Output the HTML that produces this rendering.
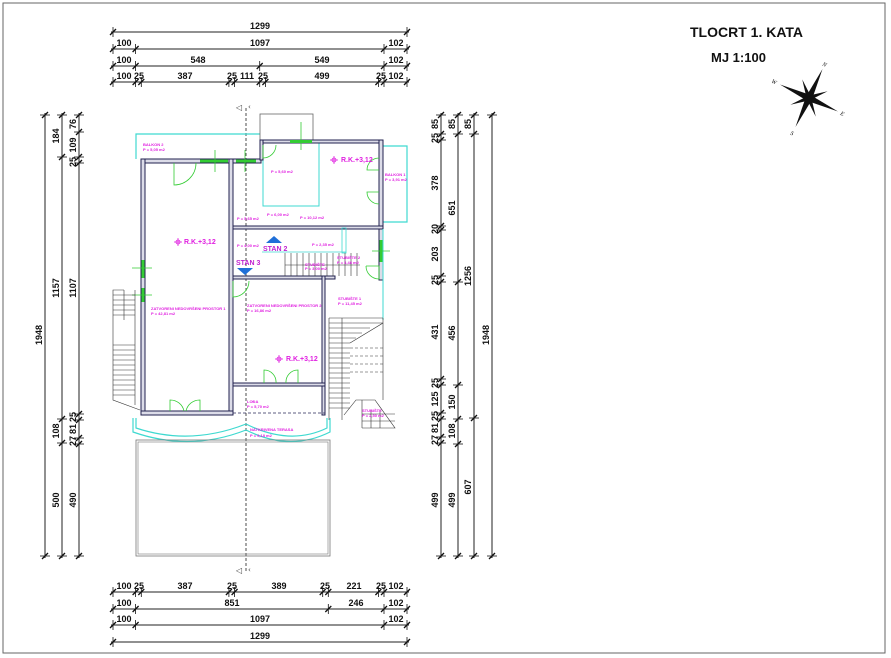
<!DOCTYPE html>
<html><head><meta charset="utf-8"><style>
html,body{margin:0;padding:0;background:#fff;}
svg{display:block;}
.d{stroke:#222;stroke-width:1;fill:none}
.t{font-family:"Liberation Sans",sans-serif;font-size:9px;font-weight:bold;fill:#111}
.m{font-family:"Liberation Sans",sans-serif;font-size:4px;font-weight:bold;fill:#e020e0}
.w{fill:#dcdce8;stroke:#22224f;stroke-width:1}
.c{stroke:#3fd9d0;fill:none;stroke-width:1.2}
.g{stroke:#3c3;stroke-width:3}
.gl{stroke:#3c3;stroke-width:0.8;fill:none}
.h{stroke:#333;stroke-width:0.6}
</style></head><body>
<svg width="891" height="658" viewBox="0 0 891 658" xmlns="http://www.w3.org/2000/svg">
<rect x="3" y="3" width="882" height="650" fill="none" stroke="#666" stroke-width="1"/>
<defs>
<g id="tk"><line x1="-3" y1="3" x2="3" y2="-3" stroke="#111" stroke-width="1.3"/><line x1="0" y1="-5" x2="0" y2="5" stroke="#111" stroke-width="0.8"/></g>
<g id="tv"><line x1="-3" y1="3" x2="3" y2="-3" stroke="#111" stroke-width="1.3"/><line x1="-5" y1="0" x2="5" y2="0" stroke="#111" stroke-width="0.8"/></g>
</defs>

<!-- TOP DIMS -->
<g>
<line class="d" x1="111" y1="32" x2="409" y2="32"/>
<use href="#tk" x="113" y="32"/><use href="#tk" x="407" y="32"/>
<text class="t" x="260" y="29" text-anchor="middle">1299</text>
<line class="d" x1="111" y1="49" x2="409" y2="49"/>
<use href="#tk" x="113" y="49"/><use href="#tk" x="135.6" y="49"/><use href="#tk" x="384" y="49"/><use href="#tk" x="407" y="49"/>
<text class="t" x="124" y="46" text-anchor="middle">100</text><text class="t" x="260" y="46" text-anchor="middle">1097</text><text class="t" x="396" y="46" text-anchor="middle">102</text>
<line class="d" x1="111" y1="66" x2="409" y2="66"/>
<use href="#tk" x="113" y="66"/><use href="#tk" x="135.6" y="66"/><use href="#tk" x="259.7" y="66"/><use href="#tk" x="384" y="66"/><use href="#tk" x="407" y="66"/>
<text class="t" x="124" y="63" text-anchor="middle">100</text><text class="t" x="198" y="63" text-anchor="middle">548</text><text class="t" x="322" y="63" text-anchor="middle">549</text><text class="t" x="396" y="63" text-anchor="middle">102</text>
<line class="d" x1="111" y1="82" x2="409" y2="82"/>
<use href="#tk" x="113" y="82"/><use href="#tk" x="135.6" y="82"/><use href="#tk" x="141.3" y="82"/><use href="#tk" x="228.9" y="82"/><use href="#tk" x="234.6" y="82"/><use href="#tk" x="259.7" y="82"/><use href="#tk" x="265.4" y="82"/><use href="#tk" x="378.4" y="82"/><use href="#tk" x="384" y="82"/><use href="#tk" x="407" y="82"/>
<text class="t" x="124" y="79" text-anchor="middle">100</text><text class="t" x="139" y="79" text-anchor="middle">25</text><text class="t" x="185" y="79" text-anchor="middle">387</text><text class="t" x="232" y="79" text-anchor="middle">25</text><text class="t" x="247" y="79" text-anchor="middle">111</text><text class="t" x="263" y="79" text-anchor="middle">25</text><text class="t" x="322" y="79" text-anchor="middle">499</text><text class="t" x="381" y="79" text-anchor="middle">25</text><text class="t" x="396" y="79" text-anchor="middle">102</text>
</g>

<!-- BOTTOM DIMS -->
<g>
<line class="d" x1="111" y1="592" x2="409" y2="592"/>
<use href="#tk" x="113" y="592"/><use href="#tk" x="135.6" y="592"/><use href="#tk" x="141.3" y="592"/><use href="#tk" x="228.9" y="592"/><use href="#tk" x="234.6" y="592"/><use href="#tk" x="322.7" y="592"/><use href="#tk" x="328.3" y="592"/><use href="#tk" x="378.4" y="592"/><use href="#tk" x="384" y="592"/><use href="#tk" x="407" y="592"/>
<text class="t" x="124" y="589" text-anchor="middle">100</text><text class="t" x="139" y="589" text-anchor="middle">25</text><text class="t" x="185" y="589" text-anchor="middle">387</text><text class="t" x="232" y="589" text-anchor="middle">25</text><text class="t" x="279" y="589" text-anchor="middle">389</text><text class="t" x="325" y="589" text-anchor="middle">25</text><text class="t" x="354" y="589" text-anchor="middle">221</text><text class="t" x="381" y="589" text-anchor="middle">25</text><text class="t" x="396" y="589" text-anchor="middle">102</text>
<line class="d" x1="111" y1="609" x2="409" y2="609"/>
<use href="#tk" x="113" y="609"/><use href="#tk" x="135.6" y="609"/><use href="#tk" x="328.3" y="609"/><use href="#tk" x="384" y="609"/><use href="#tk" x="407" y="609"/>
<text class="t" x="124" y="606" text-anchor="middle">100</text><text class="t" x="232" y="606" text-anchor="middle">851</text><text class="t" x="356" y="606" text-anchor="middle">246</text><text class="t" x="396" y="606" text-anchor="middle">102</text>
<line class="d" x1="111" y1="625" x2="409" y2="625"/>
<use href="#tk" x="113" y="625"/><use href="#tk" x="135.6" y="625"/><use href="#tk" x="384" y="625"/><use href="#tk" x="407" y="625"/>
<text class="t" x="124" y="622" text-anchor="middle">100</text><text class="t" x="260" y="622" text-anchor="middle">1097</text><text class="t" x="396" y="622" text-anchor="middle">102</text>
<line class="d" x1="111" y1="642" x2="409" y2="642"/>
<use href="#tk" x="113" y="642"/><use href="#tk" x="407" y="642"/>
<text class="t" x="260" y="639" text-anchor="middle">1299</text>
</g>

<!-- LEFT DIMS -->
<g>
<line class="d" x1="45" y1="113" x2="45" y2="558"/>
<use href="#tv" x="45" y="115"/><use href="#tv" x="45" y="556"/>
<text class="t" transform="translate(42,335) rotate(-90)" text-anchor="middle">1948</text>
<line class="d" x1="62" y1="113" x2="62" y2="558"/>
<use href="#tv" x="62" y="115"/><use href="#tv" x="62" y="157"/><use href="#tv" x="62" y="419"/><use href="#tv" x="62" y="443"/><use href="#tv" x="62" y="556"/>
<text class="t" transform="translate(59,136) rotate(-90)" text-anchor="middle">184</text>
<text class="t" transform="translate(59,288) rotate(-90)" text-anchor="middle">1157</text>
<text class="t" transform="translate(59,431) rotate(-90)" text-anchor="middle">108</text>
<text class="t" transform="translate(59,500) rotate(-90)" text-anchor="middle">500</text>
<line class="d" x1="79" y1="113" x2="79" y2="558"/>
<use href="#tv" x="79" y="115"/><use href="#tv" x="79" y="132"/><use href="#tv" x="79" y="157"/><use href="#tv" x="79" y="163"/><use href="#tv" x="79" y="414"/><use href="#tv" x="79" y="420"/><use href="#tv" x="79" y="438"/><use href="#tv" x="79" y="444"/><use href="#tv" x="79" y="556"/>
<text class="t" transform="translate(76,124) rotate(-90)" text-anchor="middle">76</text>
<text class="t" transform="translate(76,145) rotate(-90)" text-anchor="middle">109</text>
<text class="t" transform="translate(76,162) rotate(-90)" text-anchor="middle">25</text>
<text class="t" transform="translate(76,288) rotate(-90)" text-anchor="middle">1107</text>
<text class="t" transform="translate(76,417) rotate(-90)" text-anchor="middle">25</text>
<text class="t" transform="translate(76,429) rotate(-90)" text-anchor="middle">81</text>
<text class="t" transform="translate(76,441) rotate(-90)" text-anchor="middle">27</text>
<text class="t" transform="translate(76,500) rotate(-90)" text-anchor="middle">490</text>
</g>

<!-- RIGHT DIMS -->
<g>
<line class="d" x1="441" y1="113" x2="441" y2="558"/>
<use href="#tv" x="441" y="115"/><use href="#tv" x="441" y="134"/><use href="#tv" x="441" y="140"/><use href="#tv" x="441" y="226"/><use href="#tv" x="441" y="230"/><use href="#tv" x="441" y="276"/><use href="#tv" x="441" y="282"/><use href="#tv" x="441" y="379"/><use href="#tv" x="441" y="385"/><use href="#tv" x="441" y="413"/><use href="#tv" x="441" y="419"/><use href="#tv" x="441" y="437"/><use href="#tv" x="441" y="443"/><use href="#tv" x="441" y="556"/>
<text class="t" transform="translate(438,124) rotate(-90)" text-anchor="middle">85</text>
<text class="t" transform="translate(438,138) rotate(-90)" text-anchor="middle">25</text>
<text class="t" transform="translate(438,183) rotate(-90)" text-anchor="middle">378</text>
<text class="t" transform="translate(438,229) rotate(-90)" text-anchor="middle">20</text>
<text class="t" transform="translate(438,254) rotate(-90)" text-anchor="middle">203</text>
<text class="t" transform="translate(438,280) rotate(-90)" text-anchor="middle">25</text>
<text class="t" transform="translate(438,332) rotate(-90)" text-anchor="middle">431</text>
<text class="t" transform="translate(438,383) rotate(-90)" text-anchor="middle">25</text>
<text class="t" transform="translate(438,399) rotate(-90)" text-anchor="middle">125</text>
<text class="t" transform="translate(438,416) rotate(-90)" text-anchor="middle">25</text>
<text class="t" transform="translate(438,428) rotate(-90)" text-anchor="middle">81</text>
<text class="t" transform="translate(438,440) rotate(-90)" text-anchor="middle">27</text>
<text class="t" transform="translate(438,500) rotate(-90)" text-anchor="middle">499</text>
<line class="d" x1="458" y1="113" x2="458" y2="558"/>
<use href="#tv" x="458" y="115"/><use href="#tv" x="458" y="134"/><use href="#tv" x="458" y="282"/><use href="#tv" x="458" y="385"/><use href="#tv" x="458" y="419"/><use href="#tv" x="458" y="444"/><use href="#tv" x="458" y="556"/>
<text class="t" transform="translate(455,124) rotate(-90)" text-anchor="middle">85</text>
<text class="t" transform="translate(455,208) rotate(-90)" text-anchor="middle">651</text>
<text class="t" transform="translate(455,333) rotate(-90)" text-anchor="middle">456</text>
<text class="t" transform="translate(455,402) rotate(-90)" text-anchor="middle">150</text>
<text class="t" transform="translate(455,431) rotate(-90)" text-anchor="middle">108</text>
<text class="t" transform="translate(455,500) rotate(-90)" text-anchor="middle">499</text>
<line class="d" x1="474" y1="113" x2="474" y2="558"/>
<use href="#tv" x="474" y="115"/><use href="#tv" x="474" y="134"/><use href="#tv" x="474" y="418"/><use href="#tv" x="474" y="556"/>
<text class="t" transform="translate(471,124) rotate(-90)" text-anchor="middle">85</text>
<text class="t" transform="translate(471,276) rotate(-90)" text-anchor="middle">1256</text>
<text class="t" transform="translate(471,487) rotate(-90)" text-anchor="middle">607</text>
<line class="d" x1="492" y1="113" x2="492" y2="558"/>
<use href="#tv" x="492" y="115"/><use href="#tv" x="492" y="556"/>
<text class="t" transform="translate(489,335) rotate(-90)" text-anchor="middle">1948</text>
</g>

<!-- TITLE -->
<text x="690" y="37" style="font-family:'Liberation Sans',sans-serif;font-size:14px;font-weight:bold" fill="#111">TLOCRT 1. KATA</text>
<text x="711" y="62" style="font-family:'Liberation Sans',sans-serif;font-size:13px;font-weight:bold" fill="#111">MJ 1:100</text>
<!-- compass -->
<g transform="translate(809,98) rotate(25)">
<polygon points="0,-32 3,-3 0,0 -3,-3" fill="#111"/>
<polygon points="0,32 3,3 0,0 -3,3" fill="#111"/>
<polygon points="-32,0 -3,-3 0,0 -3,3" fill="#111"/>
<polygon points="32,0 3,-3 0,0 3,3" fill="#111"/>
<polygon points="-14,-14 0,-3 0,0 -3,0" fill="#111"/>
<polygon points="14,-14 3,0 0,0 0,-3" fill="#111"/>
<polygon points="-14,14 0,3 0,0 -3,0" fill="#111"/>
<polygon points="14,14 3,0 0,0 0,3" fill="#111"/>
<g style="font-family:'Liberation Serif',serif;font-size:6px;font-style:italic" fill="#111">
<text x="-2" y="-35">N</text><text x="-2" y="41">S</text><text x="-41" y="2">W</text><text x="35" y="2">E</text></g>
</g>

<!-- axis -->
<line x1="246" y1="108" x2="246" y2="572" stroke="#222" stroke-width="0.8" stroke-dasharray="3,2"/>
<text x="236" y="110" style="font-family:'DejaVu Sans',sans-serif;font-size:8px" fill="#444">◁</text><text x="248" y="109" style="font-size:7px;font-family:'DejaVu Sans',sans-serif" fill="#444">‹</text>
<text x="236" y="573" style="font-family:'DejaVu Sans',sans-serif;font-size:8px" fill="#444">◁</text><text x="248" y="572" style="font-size:7px;font-family:'DejaVu Sans',sans-serif" fill="#444">‹</text>

<!-- PLAN -->
<path class="c" d="M136,159 L136,134 L260,134"/>
<path class="c" d="M383,146 L407,146 L407,222 L383,222"/>
<rect x="263" y="141" width="56" height="65" fill="none" stroke="#3fd9d0" stroke-width="1"/>
<rect x="260" y="114" width="53" height="27" fill="none" stroke="#666" stroke-width="0.8"/>
<path class="c" d="M133,418 L133,432 Q190,452 246,430 Q290,452 330,432 L330,418"/>
<path class="c" d="M136,418 L136,428 Q190,446 246,424 Q290,446 327,428 L327,418"/>
<rect x="136" y="440" width="194" height="116" fill="none" stroke="#777" stroke-width="0.8"/>
<rect x="138" y="442" width="190" height="112" fill="none" stroke="#777" stroke-width="0.6"/>
<rect class="w" x="141" y="159" width="120" height="4"/>
<rect class="w" x="141" y="159" width="4" height="256"/>
<rect class="w" x="229" y="159" width="4" height="256"/>
<rect class="w" x="141" y="411" width="92" height="4"/>
<rect class="w" x="260" y="140" width="123" height="3"/>
<rect class="w" x="260" y="140" width="3" height="20"/>
<rect class="w" x="379" y="140" width="4" height="140"/>
<rect class="w" x="233" y="226" width="150" height="3"/>
<rect class="w" x="233" y="276" width="92" height="3"/>
<rect class="w" x="322" y="276" width="3" height="139"/>
<rect class="w" x="233" y="383" width="92" height="3"/>
<line x1="233" y1="413" x2="325" y2="413" stroke="#2a2a5a" stroke-width="0.8" stroke-dasharray="3,2"/>
<rect class="w" x="325" y="276" width="10" height="3"/>
<rect x="342" y="228" width="4" height="25" fill="none" stroke="#3fd9d0" stroke-width="0.8"/>
<line x1="262" y1="252" x2="346" y2="252" stroke="#3fd9d0" stroke-width="0.8"/>
<line x1="383" y1="229" x2="383" y2="320" stroke="#3fd9d0" stroke-width="1"/>
<line class="g" x1="200" y1="161" x2="228" y2="161"/><line class="g" x1="236" y1="161" x2="256" y2="161"/>
<line class="g" x1="290" y1="141.5" x2="312" y2="141.5"/>
<line class="g" x1="143" y1="260" x2="143" y2="278"/><line class="g" x1="143" y1="288" x2="143" y2="302"/>
<line class="g" x1="381" y1="240" x2="381" y2="262"/>
<line class="gl" x1="215" y1="150" x2="215" y2="172"/><line class="gl" x1="245" y1="150" x2="245" y2="172"/><line class="gl" x1="301" y1="122" x2="301" y2="150"/>
<line class="gl" x1="132" y1="268" x2="152" y2="268"/><line class="gl" x1="132" y1="295" x2="152" y2="295"/><line class="gl" x1="372" y1="251" x2="390" y2="251"/>
<path class="gl" d="M174,163 L174,185 A22,22 0 0 0 196,163"/>
<path class="gl" d="M263,145 L263,158 A13,13 0 0 0 276,145"/>
<path class="gl" d="M379,170 L367,170 A12,12 0 0 1 379,158 M379,192 L367,192 A12,12 0 0 0 379,204"/>
<path class="gl" d="M233,281 L233,297 A16,16 0 0 0 249,281"/>
<path class="gl" d="M366,266 L379,266 L379,279 A13,13 0 0 1 366,266"/>
<path class="gl" d="M264,383 L264,370 A12,12 0 0 1 276,383 M298,383 L298,370 A12,12 0 0 0 286,383"/>
<path class="gl" d="M170,411 L170,400 A14,14 0 0 1 184,411 M200,411 L200,400 A14,14 0 0 0 186,411"/>
<g class="h"><line x1="285" y1="253" x2="285" y2="276"/><line x1="291" y1="253" x2="291" y2="276"/><line x1="297" y1="253" x2="297" y2="276"/><line x1="303" y1="253" x2="303" y2="276"/><line x1="309" y1="253" x2="309" y2="276"/><line x1="315" y1="253" x2="315" y2="276"/><line x1="321" y1="253" x2="321" y2="276"/><line x1="327" y1="253" x2="327" y2="276"/><line x1="333" y1="253" x2="333" y2="276"/><line x1="339" y1="253" x2="339" y2="276"/><line x1="345" y1="253" x2="345" y2="276"/><line x1="351" y1="253" x2="351" y2="276"/><line x1="357" y1="253" x2="357" y2="276"/><line x1="285" y1="265" x2="360" y2="265"/></g>
<g class="h">
<line x1="329" y1="318" x2="329" y2="420"/><line x1="342" y1="318" x2="342" y2="420"/><line x1="383" y1="318" x2="383" y2="400"/>
<line x1="329" y1="318" x2="383" y2="318"/><line x1="329" y1="323" x2="383" y2="323"/><line x1="329" y1="328" x2="370" y2="328"/><line x1="329" y1="333" x2="362" y2="333"/><line x1="329" y1="338" x2="356" y2="338"/><line x1="329" y1="343" x2="350" y2="343"/><line x1="329" y1="348" x2="350" y2="348"/><line x1="329" y1="353" x2="350" y2="353"/><line x1="329" y1="358" x2="350" y2="358"/><line x1="329" y1="363" x2="350" y2="363"/><line x1="329" y1="368" x2="350" y2="368"/><line x1="329" y1="373" x2="350" y2="373"/><line x1="329" y1="378" x2="350" y2="378"/><line x1="329" y1="383" x2="350" y2="383"/><line x1="329" y1="388" x2="350" y2="388"/><line x1="329" y1="393" x2="350" y2="393"/><line x1="329" y1="398" x2="350" y2="398"/><line x1="329" y1="403" x2="350" y2="403"/><line x1="329" y1="408" x2="350" y2="408"/>
<line x1="350" y1="343" x2="383" y2="323"/>
<line x1="350" y1="348" x2="383" y2="348" stroke-dasharray="3,2"/><line x1="350" y1="356" x2="383" y2="356" stroke-dasharray="3,2"/><line x1="350" y1="364" x2="383" y2="364" stroke-dasharray="3,2"/><line x1="350" y1="372" x2="383" y2="372" stroke-dasharray="3,2"/>
<path d="M344,415 L356,400 L375,400 L395,428 L380,428 L380,410 M362,400 L362,428 M371,410 L371,428 M362,414 L395,414 M362,421 L395,421 M362,428 L380,428" fill="none"/>
</g>
<g class="h"><path d="M124,290 L113,290 L113,400 L140,410" fill="none"/>
<line x1="113" y1="295" x2="135" y2="295"/><line x1="113" y1="300" x2="135" y2="300"/><line x1="113" y1="305" x2="135" y2="305"/><line x1="113" y1="310" x2="135" y2="310"/><line x1="113" y1="315" x2="135" y2="315"/><line x1="113" y1="345" x2="135" y2="345"/><line x1="113" y1="350" x2="135" y2="350"/><line x1="113" y1="355" x2="135" y2="355"/><line x1="113" y1="360" x2="135" y2="360"/><line x1="113" y1="365" x2="135" y2="365"/><line x1="113" y1="370" x2="135" y2="370"/><line x1="113" y1="375" x2="135" y2="375"/><line x1="113" y1="380" x2="135" y2="380"/><line x1="113" y1="385" x2="135" y2="385"/><line x1="113" y1="390" x2="135" y2="390"/><line x1="113" y1="395" x2="135" y2="395"/><line x1="124" y1="290" x2="124" y2="320"/><line x1="135" y1="290" x2="135" y2="405"/></g>

<polygon points="266,243 274,236 282,243" fill="#1f6fd8"/>
<polygon points="237,268 253,268 245,275" fill="#1f6fd8"/>

<g class="m">
<text x="143" y="146">BALKON 2</text><text x="143" y="151">P = 5,05 m2</text>
<text x="385" y="176">BALKON 1</text><text x="385" y="181">P = 3,91 m2</text>
<text x="271" y="173">P = 5,60 m2</text>
<text x="237" y="220">P = 5,65 m2</text><text x="267" y="216">P = 6,00 m2</text><text x="300" y="219">P = 10,12 m2</text>
<text x="237" y="247">P = 4,00 m2</text><text x="312" y="246">P = 2,35 m2</text>
<text x="337" y="259">STUBIŠTE 2</text><text x="337" y="264">P = 3,48 m2</text>
<text x="305" y="266">STUBIŠTE</text><text x="305" y="270">P = 3,00 m2</text>
<text x="151" y="310">ZATVORENI NEDOVRŠENI PROSTOR 1</text><text x="151" y="315">P = 42,81 m2</text>
<text x="247" y="307">ZATVORENI NEDOVRŠENI PROSTOR 2</text><text x="247" y="312">P = 16,86 m2</text>
<text x="338" y="300">STUBIŠTE 1</text><text x="338" y="305">P = 11,45 m2</text>
<text x="247" y="403">LOĐA</text><text x="247" y="408">P = 5,70 m2</text>
<text x="250" y="431">NATKRIVENA TERASA</text><text x="250" y="437">P = 9,18 m2</text>
<text x="362" y="412">STUBIŠTE</text><text x="362" y="417">P = 2,50 m2</text>
</g>
<g style="font-family:'Liberation Sans',sans-serif;font-size:7px;font-weight:bold" fill="#e020e0">
<text x="184" y="244">R.K.+3,12</text><text x="341" y="162">R.K.+3,12</text><text x="286" y="361">R.K.+3,12</text>
</g>
<g stroke="#e020e0" stroke-width="0.8" fill="none">
<circle cx="178" cy="242" r="2"/><line x1="174" y1="242" x2="182" y2="242"/><line x1="178" y1="238" x2="178" y2="246"/>
<circle cx="334" cy="160" r="2"/><line x1="330" y1="160" x2="338" y2="160"/><line x1="334" y1="156" x2="334" y2="164"/>
<circle cx="279" cy="359" r="2"/><line x1="275" y1="359" x2="283" y2="359"/><line x1="279" y1="355" x2="279" y2="363"/>
</g>
<g style="font-family:'Liberation Sans',sans-serif;font-size:7px;font-weight:bold" fill="#c020d0">
<text x="263" y="251">STAN 2</text><text x="236" y="265">STAN 3</text>
</g>
</svg>
</body></html>
